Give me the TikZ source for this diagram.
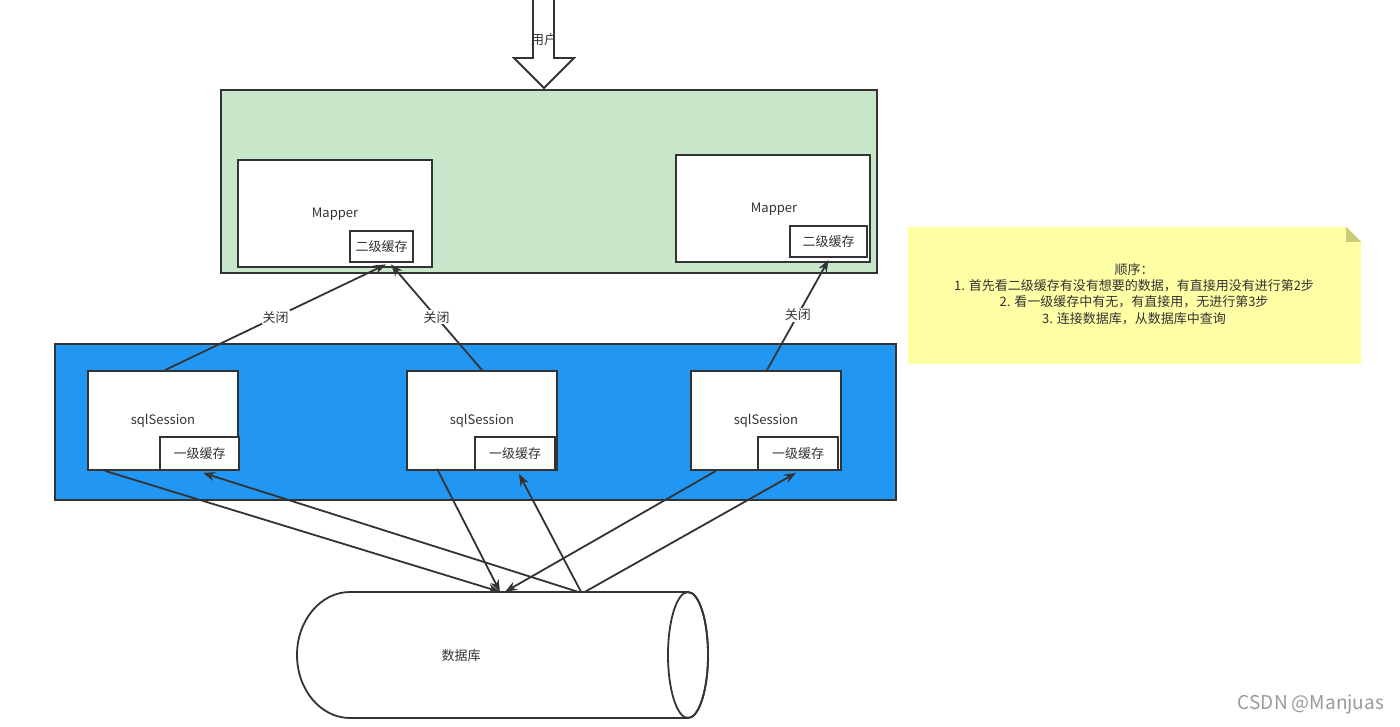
\documentclass[tikz,border=0pt]{standalone}
\usepackage{fontspec}
\setmainfont{Noto Sans CJK SC}
\usetikzlibrary{arrows.meta}
\definecolor{ink}{HTML}{333333}
\definecolor{greenbg}{HTML}{C8E6C9}
\definecolor{bluebg}{HTML}{2196F3}
\definecolor{notebg}{HTML}{FFFFA6}
\definecolor{notefold}{HTML}{CDCB78}
\definecolor{wm}{HTML}{9A9A9A}
\tikzset{
  box/.style={draw=ink, line width=1.8pt, fill=white, rectangle, inner sep=0pt, text=ink, font=\fontsize{13}{15}\selectfont},
  panel/.style={draw=ink, line width=1.8pt, rectangle, inner sep=0pt},
  arr/.style={draw=ink, line width=1.8pt, -{Stealth[length=12pt,width=9pt]}},
  lbl/.style={fill=white, inner sep=1pt, text=ink, font=\fontsize{13}{15}\selectfont},
  txt/.style={text=ink, font=\fontsize{13}{15}\selectfont, inner sep=0pt}
}
\begin{document}
\begin{tikzpicture}[x=1pt,y=-1pt]
\useasboundingbox[fill=white] (0,0) rectangle (1400,726);

% user arrow
\draw[ink, line width=1.8pt, fill=white, line join=miter]
  (533,-3) -- (533,58) -- (514,58) -- (544,88) -- (574,58) -- (554,58) -- (554,-3);
\node[txt] (user) at (544,40) {用户};

% green panel
\node[panel, fill=greenbg, minimum width=656, minimum height=183] (mapperpanel) at (549,181.5) {};

% mapper 1
\node[box, minimum width=194, minimum height=107] (m1) at (335,213.5) {};
\node[txt] (m1t) at (335,214) {Mapper};
\node[box, minimum width=63, minimum height=31] (c1) at (381.5,246.5) {二级缓存};

% mapper 2
\node[box, minimum width=194, minimum height=107] (m2) at (773,208.5) {};
\node[txt] (m2t) at (774,209) {Mapper};
\node[box, minimum width=77, minimum height=31] (c2) at (828.5,241.5) {二级缓存};

% blue panel
\node[panel, fill=bluebg, minimum width=841, minimum height=156] (sessionpanel) at (475.5,422) {};

% sessions
\node[box, minimum width=150, minimum height=99] (s1) at (163,420.5) {};
\node[txt] (s1t) at (163,421) {sqlSession};
\node[box, minimum width=79, minimum height=33] (k1) at (199.5,453.5) {一级缓存};

\node[box, minimum width=150, minimum height=99] (s2) at (482,420.5) {};
\node[txt] (s2t) at (482,421) {sqlSession};
\node[box, minimum width=80, minimum height=33] (k2) at (515,453.5) {一级缓存};

\node[box, minimum width=150, minimum height=99] (s3) at (766,420.5) {};
\node[txt] (s3t) at (766,421) {sqlSession};
\node[box, minimum width=80, minimum height=33] (k3) at (798,453.5) {一级缓存};

% note
\node[inner sep=0pt, minimum width=453, minimum height=137] (note) at (1134.5,295.5) {};
\fill[notebg] (note.north west) -- ([xshift=-15]note.north east) -- ([yshift=-15]note.north east) -- (note.south east) -- (note.south west) -- cycle;
\fill[notefold] ([xshift=-15]note.north east) -- ([xshift=-15,yshift=-15]note.north east) -- ([yshift=-15]note.north east) -- cycle;
\node[txt, align=center, font=\fontsize{13}{16.3}\selectfont] (notetext) at (1134,294) {顺序：\\1. 首先看二级缓存有没有想要的数据，有直接用没有进行第2步\\2. 看一级缓存中有无，有直接用，无进行第3步\\3. 连接数据库，从数据库中查询};

% database
\node[inner sep=0pt, minimum width=411, minimum height=126] (db) at (502.5,655) {};
\draw[ink, line width=1.8pt, fill=white]
  (688,592) -- (350,592) arc[start angle=270, end angle=90, x radius=53, y radius=63]
  -- (688,718) arc[start angle=90, end angle=-90, x radius=20, y radius=63] -- cycle;
\draw[ink, line width=1.8pt] (688,655) ellipse[x radius=20, y radius=63];
\node[txt] (dbt) at (461,656) {数据库};

% close arrows
\draw[arr] ([xshift=2]s1.north) -- node[lbl, pos=0.5] {关闭} ([xshift=4.5,yshift=-1.5]c1.south);
\draw[arr] (s2.north) -- node[lbl, pos=0.5] {关闭} ([xshift=9.5,yshift=-1.5]c1.south);
\draw[arr] ([xshift=1]s3.north) -- node[lbl, pos=0.5] {关闭} ([yshift=-2]c2.south);

% session <-> db
\draw[arr] ([xshift=18]s1.south west) -- ([xshift=-2.5]db.north);
\draw[arr] ([xshift=75.5]db.north) -- ([xshift=3.5,yshift=-2]k1.south);
\draw[arr] ([xshift=31,yshift=2]s2.south west) -- ([xshift=-2.5]db.north);
\draw[arr] ([xshift=78.5]db.north) -- ([xshift=4,yshift=-3]k2.south);
\draw[arr] ([xshift=-126]s3.south east) -- ([xshift=2.5]db.north);
\draw[arr] ([xshift=82.5]db.north) -- ([xshift=-2,yshift=-2]k3.south);

% watermark
\node[text=wm, inner sep=0pt, font=\fontsize{19}{21}\selectfont] (wmark) at (1311,704) {CSDN @Manjuas};
\end{tikzpicture}
\end{document}
